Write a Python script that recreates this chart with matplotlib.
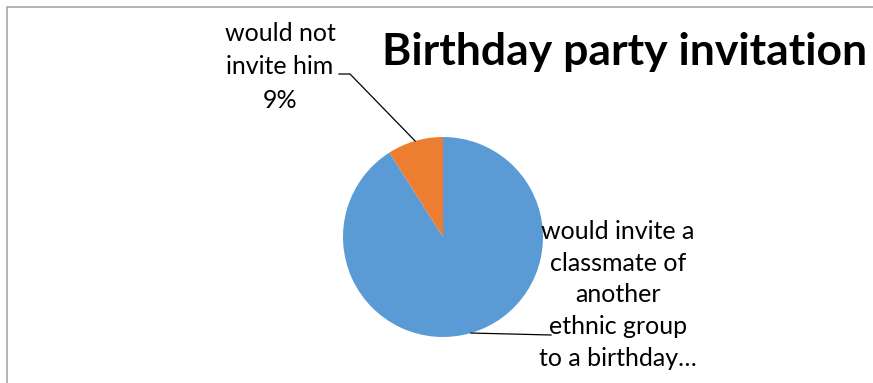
import numpy as np
import matplotlib
matplotlib.use("Agg")
import matplotlib.pyplot as plt
from matplotlib.lines import Line2D

labels = ["would invite a\nclassmate of\nanother\nethnic group\nto a birthday\u2026",
          "would not\ninvite him\n9%"]
values = [91, 9]
colors = ["#5B9BD5", "#ED7D31"]
title = "Birthday party invitation"

W, H = 873, 383
fig = plt.figure(figsize=(W / 100, H / 100), dpi=100)
plt.rcParams["font.family"] = ["Lato", "DejaVu Sans"]


def fx(x):
    return x / W


def fy(y):
    return 1 - y / H


# pie centre and radius in pixels
cx, cy, r = 443, 237, 100
ax = fig.add_axes([fx(cx - r), fy(cy + r), 2 * r / W, 2 * r / H])
wedges, _ = ax.pie(values, colors=colors, startangle=90, counterclock=False,
                   radius=1, wedgeprops=dict(linewidth=0))
ax.set_xlim(-1, 1)
ax.set_ylim(-1, 1)
ax.axis("off")


def edge_point(w):
    mid = np.deg2rad((w.theta1 + w.theta2) / 2)
    return cx + r * np.cos(mid), cy - r * np.sin(mid)


# label for the small slice, top left
ex, ey = edge_point(wedges[1])
fig.text(fx(280), fy(67), labels[1], ha="center", va="center", fontsize=18,
         linespacing=1.53)
fig.add_artist(Line2D([fx(339), fx(350), fx(ex)], [fy(74), fy(74), fy(ey)],
                      color="black", lw=0.9, transform=fig.transFigure))

# label for the large slice, bottom right
ex, ey = edge_point(wedges[0])
fig.text(fx(618), fy(295), labels[0], ha="center", va="center", fontsize=18,
         linespacing=1.45)
fig.add_artist(Line2D([fx(ex), fx(551)], [fy(ey), fy(335)],
                      color="black", lw=0.9, transform=fig.transFigure))

fig.text(fx(625), fy(52), title, ha="center", va="center", fontsize=32,
         fontweight="bold")

# chart area border (top and left edges)
fig.add_artist(Line2D([fx(7), fx(7), fx(W)], [fy(H), fy(7), fy(7)],
                      color="#A6A6A6", lw=1.2, transform=fig.transFigure))

fig.savefig("out.png", dpi=100)
